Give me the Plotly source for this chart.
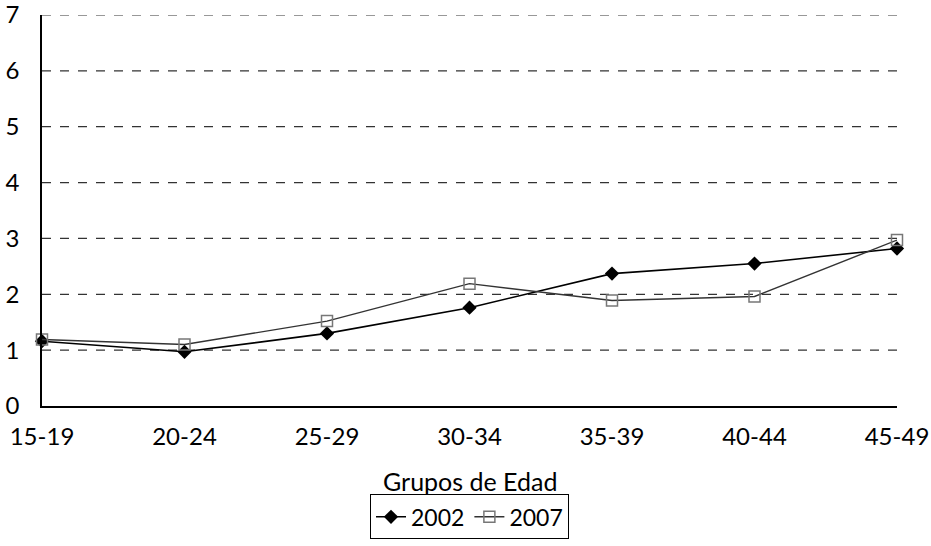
import plotly.graph_objects as go

categories = ["15-19", "20-24", "25-29", "30-34", "35-39", "40-44", "45-49"]
values_2002 = [1.16, 0.97, 1.30, 1.76, 2.37, 2.55, 2.82]
values_2007 = [1.19, 1.10, 1.52, 2.19, 1.89, 1.96, 2.97]
y_ticks = [0, 1, 2, 3, 4, 5, 6, 7]

FONT = "Lato"
x_idx = list(range(len(categories)))

fig = go.Figure()
fig.add_trace(go.Scatter(
    x=x_idx, y=values_2002, name="2002", mode="lines+markers",
    line=dict(color="black", width=1.6),
    marker=dict(symbol="diamond", size=11, color="black"),
    cliponaxis=False,
))
fig.add_trace(go.Scatter(
    x=x_idx, y=values_2007, name="2007", mode="lines+markers",
    line=dict(color="#333333", width=1.4),
    marker=dict(symbol="square-open", size=11, color="#777777", line=dict(width=1.5)),
    cliponaxis=False,
))

for v in y_ticks[1:]:
    fig.add_shape(type="line", xref="paper", yref="y", x0=0, x1=1, y0=v, y1=v,
                  line=dict(color="#333333", width=1.2, dash="dash"), layer="below")

fig.update_layout(
    width=931, height=546,
    margin=dict(l=42, r=34, t=15, b=140, autoexpand=False),
    paper_bgcolor="white", plot_bgcolor="white",
    font=dict(family=FONT, size=24, color="black"),
    showlegend=True,
    legend=dict(orientation="h", x=0.5, xanchor="center", y=-0.226, yanchor="top",
                bordercolor="black", borderwidth=1, font=dict(size=23),
                itemwidth=30, tracegroupgap=0),
    xaxis=dict(range=[0, 6], tickmode="array", tickvals=x_idx, ticktext=categories,
               showgrid=False, zeroline=False, showline=True, linecolor="black",
               linewidth=1.5, ticks="", ticklabelstandoff=8, automargin=False,
               ticklabeloverflow="allow"),
    yaxis=dict(range=[0, 7], tickvals=y_ticks, showgrid=False, zeroline=False,
               showline=True, linecolor="black", linewidth=1.5, ticks="",
               ticklabelstandoff=16, automargin=False, ticklabeloverflow="allow"),
    annotations=[dict(text="Grupos de Edad", xref="paper", yref="paper", x=0.5,
                      y=-0.192, xanchor="center", yanchor="middle", showarrow=False,
                      font=dict(size=25))],
)

fig.write_html("out.html", config={"displayModeBar": False},
               post_script="document.body.style.margin='0';")
